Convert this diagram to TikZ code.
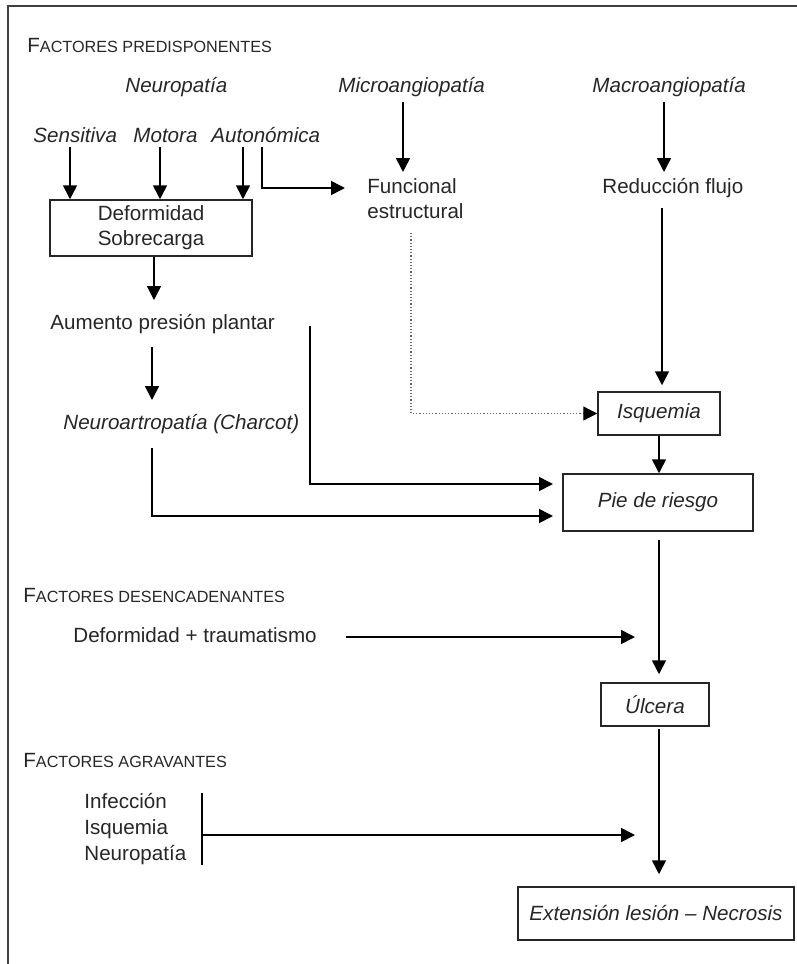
\documentclass[tikz,border=0pt]{standalone}
\usepackage{fontspec}
\setmainfont{Liberation Sans}
\usetikzlibrary{arrows.meta,calc}
\newcommand\fsize{\fontsize{10.3}{12.5}\selectfont}
\newcommand\smcp[2]{#1{\fontsize{8.1}{10}\selectfont #2}}
\begin{document}
\begin{tikzpicture}[x=0.5pt,y=-0.5pt,
  every node/.style={font=\fsize, text=black!85},
  lbl/.style={inner sep=0pt, anchor=base west},
  itl/.style={lbl, font=\fsize\itshape},
  box/.style={draw=black!85, line width=0.75pt, inner sep=0pt, align=center},
  arr/.style={-{Triangle[length=7pt,width=7pt]}, line width=0.8pt},
  dotarr/.style={-{Triangle[length=7pt,width=7pt,color=black]}, line width=0.6pt, densely dotted, draw=black!60},
]
\useasboundingbox (0,0) rectangle (797,964);
% frame
\draw[line width=1.1pt, black!75] (797,6) -- (8,6) -- (8,964);

% headings
\node[lbl] (h1) at (27,52) {\smcp{F}{ACTORES PREDISPONENTES}};
\node[lbl] (h2) at (23,602) {\smcp{F}{ACTORES DESENCADENANTES}};
\node[lbl] (h3) at (23,767) {\smcp{F}{ACTORES AGRAVANTES}};

% top labels
\node[itl] (neu) at (125,92) {Neuropatía};
\node[itl] (mic) at (338,92) {Microangiopatía};
\node[itl] (mac) at (592,92) {Macroangiopatía};
\node[itl] (sen) at (33,142) {Sensitiva};
\node[itl] (mot) at (133,142) {Motora};
\node[itl] (aut) at (211,142) {Autonómica};

\node[lbl] (fun) at (367,193) {Funcional};
\node[lbl] (est) at (367,218) {estructural};
\node[lbl] (red) at (602,193) {Reducción flujo};

\node[box, minimum width=101pt, minimum height=28pt] (def) at (151,228) {Deformidad\\Sobrecarga};
\node[lbl] (aum) at (50,329) {Aumento presión plantar};
\node[itl] (cha) at (63,429) {Neuroartropatía (Charcot)};

\node[box, font=\fsize\itshape, minimum width=61pt, minimum height=21.5pt] (isq) at (659,413.5) {Isquemia};
\node[box, font=\fsize\itshape, minimum width=95pt, minimum height=28.5pt] (pie) at (658,502.5) {Pie de riesgo};

\node[lbl] (dtr) at (73,642) {Deformidad + traumatismo};
\node[box, font=\fsize\itshape, minimum width=54pt, minimum height=21.5pt] (ulc) at (655,704.5) {Úlcera};

\node[lbl] (inf) at (84,808) {Infección};
\node[lbl] (isq2) at (84,834) {Isquemia};
\node[lbl] (neu2) at (84,860) {Neuropatía};
\node[box, font=\fsize\itshape, minimum width=138pt, minimum height=26.5pt] (ext) at (656,913.5) {Extensión lesión – Necrosis};

% coordinates for free ends
\coordinate (cs) at (70,147);
\coordinate (cm) at (160,147);
\coordinate (ca) at (243,147);
\coordinate (ca2) at (262,147);
\coordinate (fin) at (345,188);
\coordinate (cmi) at (403,102);
\coordinate (cmie) at (403,172);
\coordinate (cma) at (664,102);
\coordinate (cmae) at (664,172);
\coordinate (cdot) at (411,233);
\coordinate (cred) at (662,208);
\coordinate (cdef) at (154,257);
\coordinate (cdefe) at (154,300);
\coordinate (caum) at (152,347);
\coordinate (caume) at (152,400);
\coordinate (cp1) at (310,326);
\coordinate (cp1e) at (553,484);
\coordinate (cp2) at (152,448);
\coordinate (cp2e) at (553,516);
\coordinate (cdt) at (346,637);
\coordinate (cdte) at (635,637);
\coordinate (bt) at (202,793);
\coordinate (bb) at (202,865);
\coordinate (bm) at (202,835);
\coordinate (bme) at (635,835);
\coordinate (vx) at (659,0);

% neuropathy arrows
\draw[arr] (cs) -- (cs |- def.north);
\draw[arr] (cm) -- (cm |- def.north);
\draw[arr] (ca) -- (ca |- def.north);
\draw[arr] (ca2) |- (fin);
% micro / macro
\draw[arr] (cmi) -- (cmie);
\draw[arr] (cma) -- (cmae);
\draw[dotarr] (cdot) |- (isq.west);
\draw[arr, shorten >=3pt] (cred) -- (cred |- isq.north);
\draw[arr] (vx |- isq.south) -- (vx |- pie.north);
% left chain
\draw[arr] (cdef) -- (cdefe);
\draw[arr] (caum) -- (caume);
\draw[arr] (cp1) |- (cp1e);
\draw[arr] (cp2) |- (cp2e);
% main spine
\draw[arr, shorten <=4pt, shorten >=4pt] (vx |- pie.south) -- (vx |- ulc.north);
\draw[arr, shorten <=1pt, shorten >=6pt] (vx |- ulc.south) -- (vx |- ext.north);
% triggering / aggravating
\draw[arr] (cdt) -- (cdte);
\draw[line width=0.8pt] (bt) -- (bb);
\draw[arr] (bm) -- (bme);
\end{tikzpicture}
\end{document}
